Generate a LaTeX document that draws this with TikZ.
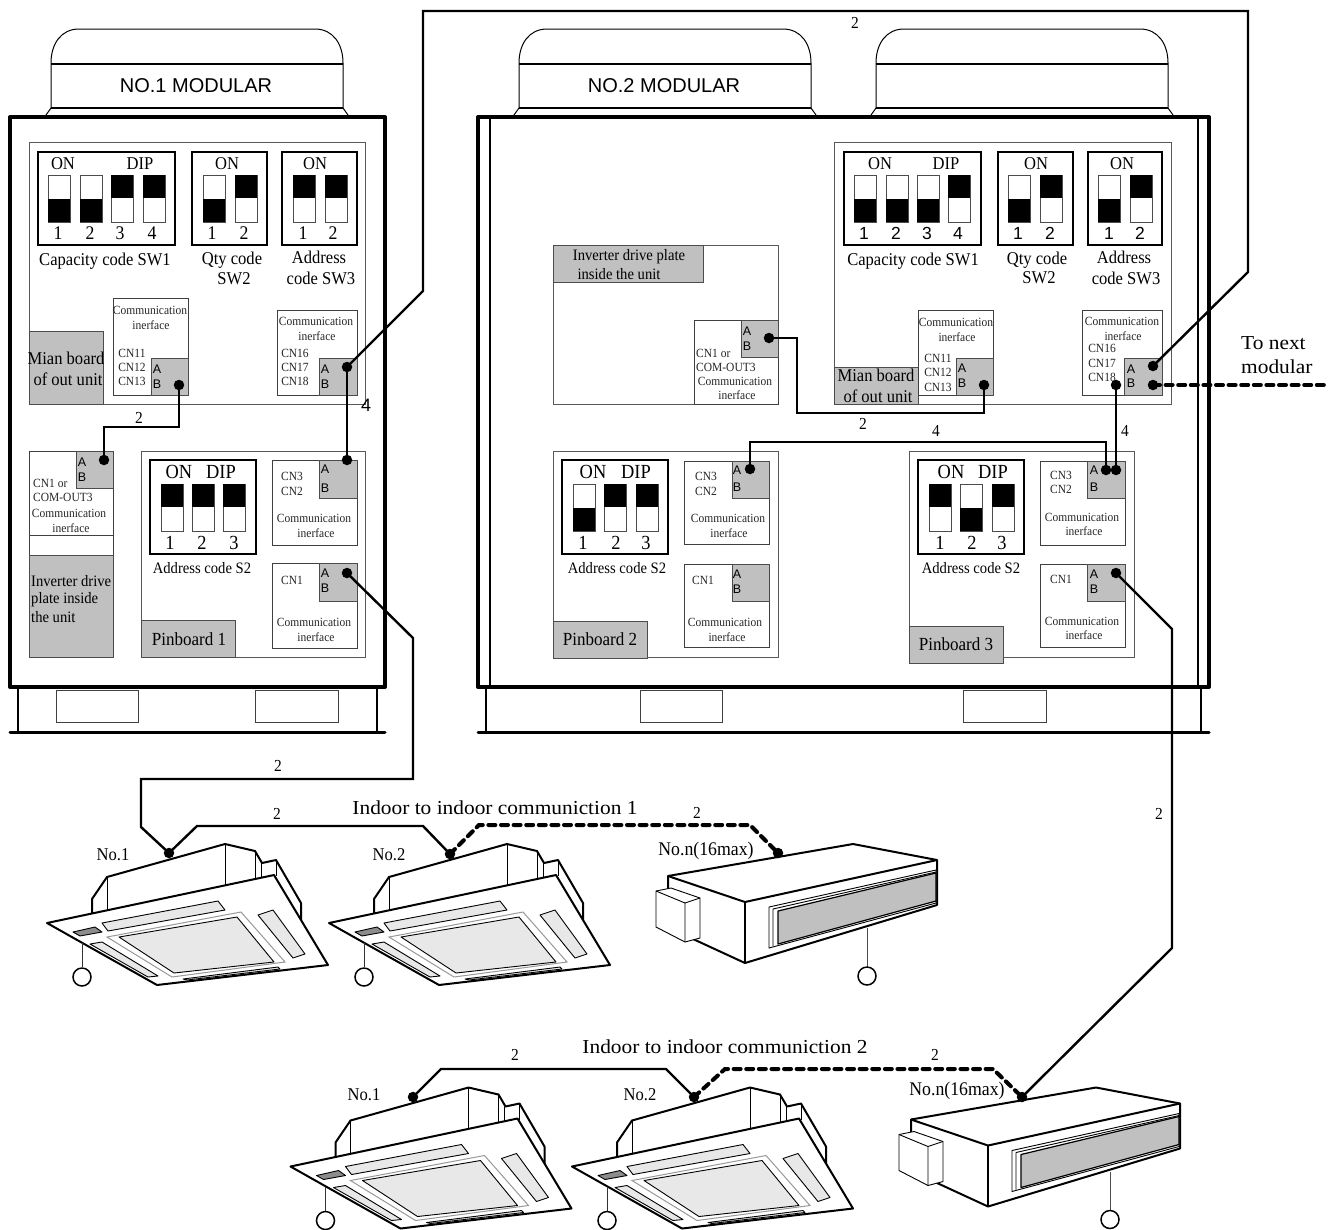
\documentclass[tikz,border=0pt]{standalone}
\usepackage{fontspec}
\setmainfont[FakeStretch=0.92]{Liberation Serif}
\newfontfamily\wsf[FakeStretch=1.08]{Liberation Serif}
\newfontfamily\arialf{Liberation Sans}
\newcounter{lc}
\tikzset{
 tt/.style={inner sep=0pt,font=\fontsize{12.5}{13}\selectfont,anchor=center,text=black!85},
 tl/.style={tt,anchor=west},
 tm/.style={inner sep=0pt,font=\fontsize{18}{20}\selectfont},
 tmd/.style={inner sep=0pt,font=\fontsize{19.3}{20}\selectfont},
 tn/.style={inner sep=0pt,font=\fontsize{15.9}{17}\selectfont},
 tb/.style={inner sep=0pt,font=\fontsize{20}{22}\selectfont},
 tno/.style={inner sep=0pt,font=\fontsize{19.3}{21}\selectfont},
 tbig/.style={inner sep=0pt,font=\wsf\fontsize{19.8}{22}\selectfont},
 tp/.style={inner sep=0pt,font=\fontsize{18.5}{20}\selectfont},
 tw/.style={inner sep=0pt,font=\fontsize{16.8}{18}\selectfont},
 ts/.style={inner sep=0pt,font=\arialf\fontsize{12.5}{13}\selectfont},
 tsd/.style={inner sep=0pt,font=\arialf\fontsize{17.5}{18}\selectfont},
 thinb/.style={draw=black!75,line width=0.9pt},
 boardb/.style={draw=black!65,line width=1pt},
 grayb/.style={draw=black!70,line width=1pt,fill=graybox},
 dipb/.style={draw=black,line width=2.2pt},
 frameb/.style={draw=black,line width=4pt,line cap=round,line join=round},
 wire/.style={draw=black,line width=2.4pt,line join=miter},
 dashw/.style={draw=black,line width=4pt,line cap=round,dash pattern=on 7pt off 5.6pt},
 dot/.style={circle,fill=black,inner sep=0pt,minimum size=10.5pt},
 unitl/.style={draw=black,line width=2pt,line join=round},
 unitt/.style={draw=black,line width=0.9pt,line join=round},
}
\definecolor{graybox}{HTML}{C0C0C0}
\definecolor{lightg}{HTML}{E8E8E8}
\newcommand\lab[4][tt]{\stepcounter{lc}\node[#1] (L\thelc) at (#2,#3) {#4};}
\newcommand\bx[5][thinb]{\draw[#1] (#2,#3) rectangle (#4,#5);}
\newcommand\swu[2]{\draw[black!70,line width=.9pt] (#1,#2) rectangle ++(22,47);\fill[black] (#1,#2) rectangle ++(22,23);}
\newcommand\swd[2]{\draw[black!70,line width=.9pt] (#1,#2) rectangle ++(22,47);\fill[black] (#1,#2) ++(0,24) rectangle ++(22,23);}
\newcommand\capsh[1]{%
 \begin{scope}[shift={(#1,0)}]
 \draw[black,line width=1pt] (0,63) .. controls (0,44) and (10,29) .. (28,29) -- (264,29) .. controls (282,29) and (292,44) .. (292,63);
 \draw[black,line width=1pt] (0,63) -- (0,108) -- (-5,115);
 \draw[black,line width=1pt] (292,63) -- (292,108) -- (297,115);
 \draw[black,line width=1.4pt] (0,64) -- (292,64);
 \draw[black,line width=1.6pt] (0,108) -- (292,108);
 \end{scope}}
\newcommand\cassette[2]{%
 \begin{scope}[shift={(#1,#2)}]
 \draw[unitl] (92,915) -- (92,899) -- (107,877) -- (225,844) -- (255,851) -- (262,863) -- (276,860) -- (301,903) -- (301,920);
 \draw[unitt] (107,877) -- (107,912) (225,844) -- (225,885) (255,851) -- (255,880) (261,863) -- (261,880) (276,860) -- (276,876);
 \draw[unitl,fill=white] (47,923) -- (274,875) -- (328,965) -- (157,985) -- cycle;
 \draw[unitt,fill=lightg] (102,923) -- (218,901) -- (225,910) -- (108,931) -- cycle;
 \draw[unitt,fill=black!45] (73,932) -- (95,927) -- (102,932) -- (80,936) -- cycle;
 \draw[unitt,fill=lightg] (258,915) -- (273,910) -- (305,954) -- (293,958) -- cycle;
 \draw[unitt,fill=lightg] (90,944) -- (102,942) -- (158,976) -- (148,977) -- cycle;
 \draw[unitt,fill=lightg] (183,979) -- (278,967) -- (280,969) -- (187,980) -- cycle;
 \draw[black!40,line width=1pt,fill=white] (107,937) -- (241,912) -- (285,962) -- (172,977) -- cycle;
 \draw[unitt,fill=lightg] (119,937) -- (237,917) -- (274,962) -- (174,973) -- cycle;
 \draw[black!80,line width=1pt] (82,943) -- (82,967);
 \draw[black,line width=1.5pt,fill=white] (82,977) circle (9);
 \end{scope}}
\newcommand\duct[2]{%
 \begin{scope}[shift={(#1,#2)}]
 \draw[unitl,fill=white] (668,876) -- (853,844) -- (937,860) -- (937,905) -- (745,963) -- (693,939) -- (668,925) -- cycle;
 \draw[unitl] (668,876) -- (745,902) -- (937,860);
 \draw[unitl] (745,902) -- (745,963);
 \draw[unitt,fill=white] (769,907) -- (936,870) -- (936,903) -- (769,948) -- cycle;
 \draw[unitt] (773,909) -- (936,872) (773,909) -- (773,946);
 \draw[unitl,line width=1.2pt,fill=graybox] (778,911) -- (936,873) -- (936,901) -- (778,944) -- cycle;
 \draw[unitt,fill=white] (656,891) -- (671,888) -- (700,898) -- (700,938) -- (685,942) -- (656,927) -- cycle;
 \draw[unitt] (656,891) -- (685,903) -- (700,898) (685,903) -- (685,942);
 \draw[black!70,line width=1pt] (867,928) -- (867,967);
 \draw[black,line width=1.5pt,fill=white] (867,976) circle (9);
 \end{scope}}
\newcommand\comm[4]{% x1 y1 x2 y2
 \draw[thinb,fill=white] (#1,#2) rectangle (#3,#4);}
\begin{document}
\begin{tikzpicture}[x=1pt,y=-1pt]
\useasboundingbox (0,0) rectangle (1335,1229);
% ---------- caps
\capsh{51}\capsh{519}\capsh{876}
\lab[inner sep=0pt,font=\arialf\fontsize{20}{22}\selectfont]{196}{86}{NO.1 MODULAR}
\lab[inner sep=0pt,font=\arialf\fontsize{20}{22}\selectfont]{664}{86}{NO.2 MODULAR}
% ---------- module 1 frame
\draw[frameb] (10,117) rectangle (385,687);
\draw[black,line width=1.6pt] (18,687) -- (18,732) (377,687) -- (377,732);
\draw[black,line width=3pt,line cap=round] (10,732) -- (385,732);
\bx{56}{690}{138}{722}\bx{255}{690}{338}{722}
% ---------- module 2 frame
\draw[frameb] (478,117) rectangle (1209,687);
\draw[black,line width=1.3pt] (490,117) -- (490,687) (1198,117) -- (1198,687);
\draw[black,line width=1.6pt] (486,687) -- (486,732) (1201,687) -- (1201,732);
\draw[black,line width=3pt,line cap=round] (478,732) -- (1209,732);
\bx{640}{690}{722}{722}\bx{963}{690}{1046}{722}
% ========== module 1 upper board
\bx[boardb]{29}{142}{365}{404}
\bx[dipb]{38}{152}{175}{245}\bx[dipb]{192}{152}{267}{245}\bx[dipb]{282}{152}{357}{245}
\swd{48}{175}\swd{80}{175}\swu{111}{175}\swu{143}{175}
\swd{203}{175}\swu{235}{175}
\swu{293}{175}\swu{325}{175}
\lab[tm]{63}{164}{ON}\lab[tm]{140}{164}{DIP}\lab[tm]{227}{164}{ON}\lab[tm]{315}{164}{ON}
\lab[tmd]{58}{233}{1}\lab[tmd]{90}{233}{2}\lab[tmd]{120}{233}{3}\lab[tmd]{152}{233}{4}
\lab[tmd]{212}{233}{1}\lab[tmd]{244}{233}{2}\lab[tmd]{303}{233}{1}\lab[tmd]{333}{233}{2}
\lab[tm]{105}{261}{Capacity code SW1}
\lab[tm]{232}{260}{Qty code}\lab[tm]{234}{279}{SW2}
\lab[tm]{319}{257}{Address}\lab[tm]{321}{278}{code SW3}
\bx[grayb]{29}{331}{103}{404}
\lab[tm]{66}{358}{Mian board}\lab[tm]{68}{379}{of out unit}
\comm{113}{298}{188}{395}\bx[grayb]{151}{358}{188}{395}
\lab{150}{310}{Communication}\lab{151}{325}{inerface}
\lab{132}{353}{CN11}\lab{132}{367}{CN12}\lab{132}{381}{CN13}
\lab[ts]{157}{369}{A}\lab[ts]{157}{384}{B}
\comm{277}{310}{357}{395}\bx[grayb]{319}{358}{357}{395}
\lab{316}{321}{Communication}\lab{317}{336}{inerface}
\lab{295}{353}{CN16}\lab{295}{367}{CN17}\lab{295}{381}{CN18}
\lab[ts]{325}{369}{A}\lab[ts]{325}{384}{B}
% ---- left inverter
\draw[thinb] (29,451) rectangle (113,657);
\draw[thinb] (29,535) -- (113,535);
\bx[grayb]{29}{555}{113}{657}
\bx[grayb]{76}{451}{113}{488}
\lab[ts]{82}{462}{A}\lab[ts]{82}{477}{B}
\lab[tl]{33}{483}{CN1 or}\lab[tl]{33}{497}{COM-OUT3}
\lab{69}{513}{Communication}\lab{71}{528}{inerface}
\lab[tn,anchor=west]{31}{581}{Inverter drive}\lab[tn,anchor=west]{31}{600}{plate inside}\lab[tn,anchor=west]{31}{617}{the unit}
% ---- pinboard 1
\bx[boardb]{141}{451}{365}{657}
\bx[dipb]{150}{460}{256}{554}
\swu{161}{484}\swu{192}{484}\swu{223}{484}
\lab[tb]{179}{472}{ON}\lab[tb]{221}{472}{DIP}
\lab[tb]{170}{543}{1}\lab[tb]{202}{543}{2}\lab[tb]{234}{543}{3}
\lab[tn]{202}{568}{Address code S2}
\comm{272}{460}{357}{545}\bx[grayb]{319}{460}{357}{498}
\lab{292}{476}{CN3}\lab{292}{491}{CN2}\lab{314}{518}{Communication}\lab{316}{533}{inerface}
\lab[ts]{325}{469}{A}\lab[ts]{325}{488}{B}
\comm{272}{563}{357}{648}\bx[grayb]{319}{563}{357}{601}
\lab{292}{580}{CN1}\lab{314}{622}{Communication}\lab{316}{637}{inerface}
\lab[ts]{325}{573}{A}\lab[ts]{325}{588}{B}
\bx[grayb]{141}{620}{235}{657}
\lab[tp]{189}{639}{Pinboard 1}
% ========== module 2 inverter
\bx[boardb]{553}{245}{778}{404}
\bx[grayb]{553}{245}{703}{282}
\lab[tn]{629}{257}{Inverter drive plate}\lab[tn]{619}{274}{inside the unit}
\comm{694}{320}{778}{404}\bx[grayb]{741}{320}{778}{357}
\lab[tl]{696}{353}{CN1 or}\lab[tl]{696}{367}{COM-OUT3}
\lab{735}{381}{Communication}\lab{737}{395}{inerface}
\lab[ts]{747}{331}{A}\lab[ts]{747}{346}{B}
% ---- module 2 upper board
\bx[boardb]{834}{142}{1171}{404}
\bx[dipb]{844}{152}{981}{245}\bx[dipb]{998}{152}{1073}{245}\bx[dipb]{1088}{152}{1162}{245}
\swd{854}{175}\swd{886}{175}\swd{917}{175}\swu{948}{175}
\swd{1008}{175}\swu{1040}{175}\swd{1098}{175}\swu{1130}{175}
\lab[tm]{880}{164}{ON}\lab[tm]{946}{164}{DIP}\lab[tm]{1036}{164}{ON}\lab[tm]{1122}{164}{ON}
\lab[tsd]{864}{233}{1}\lab[tsd]{896}{233}{2}\lab[tsd]{927}{233}{3}\lab[tsd]{958}{233}{4}
\lab[tsd]{1018}{233}{1}\lab[tsd]{1050}{233}{2}\lab[tsd]{1109}{233}{1}\lab[tsd]{1140}{233}{2}
\lab[tm]{913}{261}{Capacity code SW1}
\lab[tm]{1037}{260}{Qty code}\lab[tm]{1039}{278}{SW2}
\lab[tm]{1124}{257}{Address}\lab[tm]{1126}{278}{code SW3}
\bx[grayb]{834}{367}{918}{404}
\lab[tm]{876}{375}{Mian board}\lab[tm]{878}{396}{of out unit}
\comm{918}{310}{993}{395}\bx[grayb]{956}{358}{993}{395}
\lab{956}{322}{Communication}\lab{957}{337}{inerface}
\lab{938}{358}{CN11}\lab{938}{372}{CN12}\lab{938}{387}{CN13}
\lab[ts]{962}{368}{A}\lab[ts]{962}{383}{B}
\comm{1082}{310}{1162}{395}\bx[grayb]{1124}{358}{1162}{395}
\lab{1122}{321}{Communication}\lab{1123}{336}{inerface}
\lab{1102}{348}{CN16}\lab{1102}{363}{CN17}\lab{1102}{377}{CN18}
\lab[ts]{1131}{369}{A}\lab[ts]{1131}{383}{B}
% ---- pinboard 2
\bx[boardb]{553}{451}{778}{657}
\bx[dipb]{562}{460}{668}{554}
\swd{573}{484}\swu{604}{484}\swu{636}{484}
\lab[tb]{593}{472}{ON}\lab[tb]{636}{472}{DIP}
\lab[tb]{583}{543}{1}\lab[tb]{616}{543}{2}\lab[tb]{646}{543}{3}
\lab[tn]{617}{568}{Address code S2}
\comm{684}{461}{769}{544}\bx[grayb]{732}{461}{769}{498}
\lab{706}{476}{CN3}\lab{706}{491}{CN2}\lab{728}{518}{Communication}\lab{729}{533}{inerface}
\lab[ts]{737}{470}{A}\lab[ts]{737}{487}{B}
\comm{684}{564}{769}{647}\bx[grayb]{732}{564}{769}{601}
\lab{703}{580}{CN1}\lab{725}{622}{Communication}\lab{727}{637}{inerface}
\lab[ts]{737}{574}{A}\lab[ts]{737}{589}{B}
\bx[grayb]{553}{621}{647}{658}
\lab[tp]{600}{639}{Pinboard 2}
% ---- pinboard 3
\bx[boardb]{909}{451}{1134}{657}
\bx[dipb]{918}{460}{1024}{554}
\swu{929}{484}\swd{960}{484}\swu{992}{484}
\lab[tb]{951}{472}{ON}\lab[tb]{993}{472}{DIP}
\lab[tb]{940}{543}{1}\lab[tb]{972}{543}{2}\lab[tb]{1002}{543}{3}
\lab[tn]{971}{568}{Address code S2}
\comm{1040}{461}{1125}{545}\bx[grayb]{1087}{461}{1125}{498}
\lab{1061}{475}{CN3}\lab{1061}{489}{CN2}\lab{1082}{517}{Communication}\lab{1084}{531}{inerface}
\lab[ts]{1094}{470}{A}\lab[ts]{1094}{487}{B}
\comm{1040}{564}{1125}{647}\bx[grayb]{1087}{564}{1125}{601}
\lab{1061}{579}{CN1}\lab{1082}{621}{Communication}\lab{1084}{635}{inerface}
\lab[ts]{1094}{574}{A}\lab[ts]{1094}{589}{B}
\bx[grayb]{909}{626}{1003}{663}
\lab[tp]{956}{644}{Pinboard 3}
% ========== indoor units
\cassette{0}{0}\cassette{282}{0}\duct{0}{0}
\cassette{243.5}{243.5}\cassette{525}{243.5}\duct{243}{243.5}
% ========== dots
\node[dot] (m1cn13) at (179,385) {};
\node[dot] (m1cn17) at (347,367) {};
\node[dot] (m1inv) at (104,460) {};
\node[dot] (p1a) at (347,460) {};
\node[dot] (p1b) at (347,573) {};
\node[dot] (invr) at (769,338) {};
\node[dot] (m2cn13) at (984,385) {};
\node[dot] (p2a) at (750,469) {};
\node[dot] (p3a1) at (1106,470) {};
\node[dot] (p3a2) at (1116,470) {};
\node[dot] (m2cn18) at (1116,385) {};
\node[dot] (m2a) at (1153,366) {};
\node[dot] (m2b) at (1153,385) {};
\node[dot] (p3b) at (1116,573) {};
\node[dot] (u1) at (169,853) {};
\node[dot] (u2) at (450,854) {};
\node[dot] (un) at (778,853) {};
\node[dot] (v1) at (413,1097) {};
\node[dot] (v2) at (694,1097) {};
\node[dot] (vn) at (1022,1097) {};
\coordinate (next) at (1325,385);
% ========== wires
\draw[wire] (m1cn17.center) -- (423,291) -- (423,11) -- (1248,11) -- (1248,272) -- (m2a.center);
\draw[wire] (m1cn17.center) -- (p1a.center);
\draw[wire] (m1cn13.center) -- (179,427) -- (104,427) -- (m1inv.center);
\draw[wire] (p1b.center) -- (413,638) -- (413,779) -- (141,779) -- (141,827) -- (u1.center);
\draw[wire] (u1.center) -- (197,826) -- (423,826) -- (u2.center);
\draw[dashw] (u2.center) -- (479,825) -- (750,825) -- (un.center);
\draw[wire] (invr.center) -- (797,338) -- (797,413) -- (984,413) -- (m2cn13.center);
\draw[wire] (p2a.center) -- (750,442) -- (1106,442) -- (p3a1.center);
\draw[wire] (p3a2.center) -- (m2cn18.center);
\draw[dashw] (m2b.center) -- (next);
\draw[wire] (p3b.center) -- (1172,629) -- (1172,948) -- (vn.center);
\draw[wire] (v1.center) -- (441,1069) -- (666,1069) -- (v2.center);
\draw[dashw] (v2.center) -- (725,1069) -- (993,1069) -- (vn.center);
% ========== wire labels
\lab[tw]{855}{23}{2}
\lab[inner sep=0pt,font=\arialf\fontsize{18}{19}\selectfont]{366}{405}{4}
\lab[tw]{139}{418}{2}
\lab[tw]{863}{424}{2}\lab[tw]{936}{431}{4}\lab[tw]{1125}{431}{4}
\lab[tw]{278}{766}{2}\lab[tw]{277}{814}{2}\lab[tw]{697}{813}{2}\lab[tw]{1159}{814}{2}
\lab[tw]{515}{1055}{2}\lab[tw]{935}{1055}{2}
\lab[tbig]{495}{808}{Indoor to indoor communiction 1}
\lab[tbig]{725}{1047}{Indoor to indoor communiction 2}
\lab[tm]{113}{855}{No.1}\lab[tm]{389}{855}{No.2}
\lab[tno]{706}{851}{No.n(16max)}
\lab[tm]{364}{1095}{No.1}\lab[tm]{640}{1095}{No.2}
\lab[tno]{957}{1091}{No.n(16max)}
\lab[tbig,anchor=west]{1241}{343}{To next}\lab[tbig,anchor=west]{1241}{367}{modular}
\end{tikzpicture}
\end{document}
